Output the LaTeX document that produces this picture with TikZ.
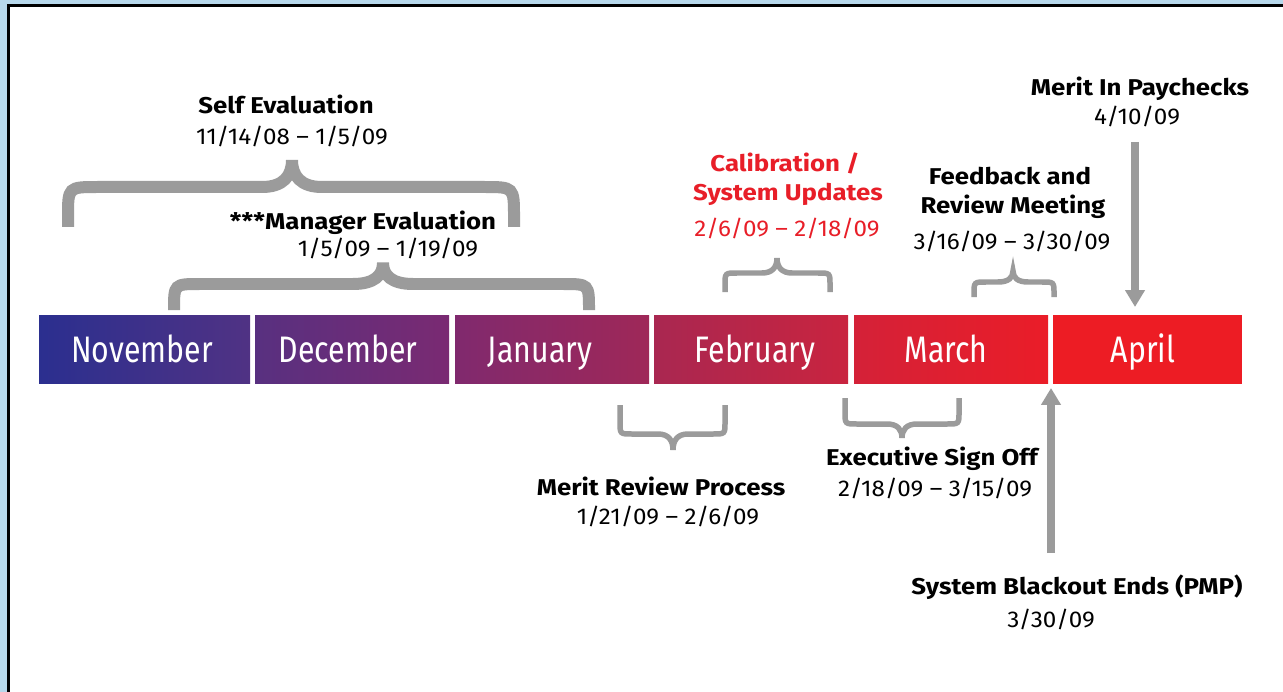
\documentclass[tikz,border=0pt]{standalone}
\usepackage{fontspec}
\setmainfont{Fira Sans}[FakeStretch=1.06,BoldFeatures={FakeStretch=1.13}]
\newfontfamily\monthfont[FakeStretch=0.82]{Fira Sans}
\usetikzlibrary{arrows.meta}

\definecolor{framebg}{RGB}{183,216,235}
\definecolor{bracegray}{RGB}{155,155,155}
\definecolor{calred}{RGB}{232,30,40}
\definecolor{nova}{RGB}{43,47,143}
\definecolor{novb}{RGB}{80,50,132}
\definecolor{deca}{RGB}{88,48,128}
\definecolor{decb}{RGB}{122,42,114}
\definecolor{jana}{RGB}{128,41,110}
\definecolor{janb}{RGB}{159,40,88}
\definecolor{feba}{RGB}{169,39,81}
\definecolor{febb}{RGB}{201,36,63}
\definecolor{mara}{RGB}{212,33,56}
\definecolor{marb}{RGB}{234,29,40}
\definecolor{apra}{RGB}{237,28,36}

% curly brace: left x, right x, tip x, arm end y, bar y, tip y, corner, tip run, width
\newcommand{\timebrace}[9]{%
  \draw[bracegray,line width=#9] (#1,#4) -- (#1,{#5+sign(#4-#5)*#7})
    .. controls (#1,#5) .. ({#1+#7},#5) -- ({#3-#8},#5)
    .. controls ({#3-0.3*#8},#5) and (#3,{#5+0.4*(#6-#5)}) .. (#3,#6)
    .. controls (#3,{#5+0.4*(#6-#5)}) and ({#3+0.3*#8},#5) .. ({#3+#8},#5)
    -- ({#2-#7},#5) .. controls (#2,#5) .. (#2,{#5+sign(#4-#5)*#7}) -- (#2,#4);}

\begin{document}
\begin{tikzpicture}[x=0.02cm,y=-0.02cm,
    month/.style={rectangle,inner sep=0pt,minimum width=#1*0.02cm,minimum height=1.38cm},
    monthname/.style={text=white,inner sep=0pt,font=\monthfont\fontsize{21}{21}\selectfont,text height=14.5pt,text depth=0pt},
    title/.style={font=\bfseries\fontsize{13}{15}\selectfont,anchor=base,inner sep=0pt},
    date/.style={font=\fontsize{13}{15}\selectfont,anchor=base,inner sep=0pt},
    bigarrow/.style={draw=bracegray,line width=0.17cm,-{Triangle[length=0.34cm,width=0.38cm]}}]
    \useasboundingbox (0,0) rectangle (1283,692);
    \fill[framebg] (0,0) rectangle (1283,692);
    \fill[white] (8.5,5.5) rectangle (1283,692);
    \draw[line width=0.06cm] (8.5,692) -- (8.5,5.5) -- (1283,5.5);

    % months
    \node[month=211,left color=nova,right color=novb] (nov) at (144.5,349.5) {};
    \node[month=194,left color=deca,right color=decb] (dec) at (352,349.5) {};
    \node[month=194,left color=jana,right color=janb] (jan) at (552,349.5) {};
    \node[month=194,left color=feba,right color=febb] (feb) at (751,349.5) {};
    \node[month=194,left color=mara,right color=marb] (mar) at (951,349.5) {};
    \node[month=189,fill=apra] (apr) at (1147.5,349.5) {};
    \node[monthname] (novtext) at (142,349.5) {November};
    \node[monthname] (dectext) at (348,349.5) {December};
    \node[monthname] (jantext) at (540,349.5) {January};
    \node[monthname] (febtext) at (755,349.5) {February};
    \node[monthname] (martext) at (946,349.5) {March};
    \node[monthname] (aprtext) at (1143,349.5) {April};

    % braces
    \timebrace{68}{514}{292}{227}{187}{160}{30}{30}{0.24cm}
    \timebrace{174}{589}{383}{307}{284}{263}{26}{30}{0.24cm}
    \timebrace{725}{830}{777}{292}{273}{258}{12}{15}{0.11cm}
    \timebrace{974}{1054}{1013}{297}{282}{271}{12}{15}{0.11cm}
    \timebrace{620}{725}{673}{405}{434}{450}{12}{15}{0.11cm}
    \timebrace{845}{959}{902}{398}{424}{438}{12}{15}{0.11cm}

    % labels
    \node[title] (self) at (286,114) {Self Evaluation};
    \node[date] (selfdate) at (292,145) {11/14/08 -- 1/5/09};
    \node[title] (mgr) at (363,230) {***Manager Evaluation};
    \node[date] (mgrdate) at (388,256) {1/5/09 -- 1/19/09};
    \node[title,text=calred] (cal) at (785,172) {Calibration /};
    \node[title,text=calred] (sysup) at (788,201) {System Updates};
    \node[date,text=calred] (caldate) at (787,237) {2/6/09 -- 2/18/09};
    \node[title] (fb) at (1010,185) {Feedback and};
    \node[title] (revmeet) at (1013,214) {Review Meeting};
    \node[date] (fbdate) at (1012,250) {3/16/09 -- 3/30/09};
    \node[title] (pay) at (1140,96) {Merit In Paychecks};
    \node[date] (paydate) at (1137,125) {4/10/09};
    \node[title] (mrp) at (661,495) {Merit Review Process};
    \node[date] (mrpdate) at (668,524) {1/21/09 -- 2/6/09};
    \node[title] (exec) at (932,465) {Executive Sign Off};
    \node[date] (execdate) at (935,496) {2/18/09 -- 3/15/09};
    \node[title] (sbo) at (1077,594) {System Blackout Ends (PMP)};
    \node[date] (sbodate) at (1051,627) {3/30/09};

    % arrows
    \coordinate (payfrom) at (1135,142);
    \coordinate (payto) at (1135,307);
    \coordinate (sbofrom) at (1051,553);
    \coordinate (sboto) at (1051,388);
    \draw[bigarrow] (payfrom) -- (payto);
    \draw[bigarrow] (sbofrom) -- (sboto);
\end{tikzpicture}
\end{document}
